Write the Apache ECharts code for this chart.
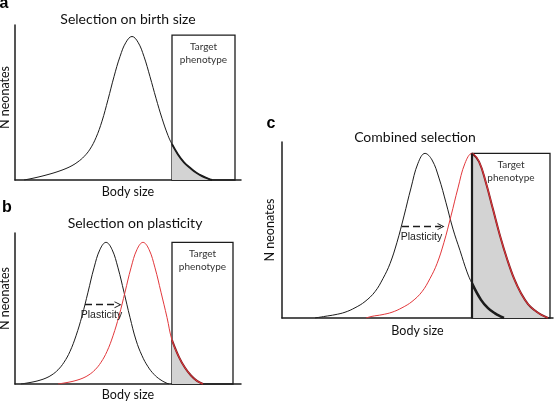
<!DOCTYPE html>
<html><head><meta charset="utf-8">
<script src="https://cdn.jsdelivr.net/npm/echarts@6/dist/echarts.min.js"></script>
<style>html,body{margin:0;padding:0;background:#fff}#c{width:555px;height:402px}</style>
</head><body><div id="c"></div>
<script>
// ---- data (body size units / N neonates units) ----
// Panel a: selection on birth size
const aX = [9, 15, 21, 27, 33, 39, 45, 51, 57, 63, 69, 75, 81, 87, 93, 99, 105, 111, 117, 123, 129, 135, 141, 147, 153, 157, 163, 169, 175, 181, 187, 193, 197];
const aY = [0, 0.8, 1.7, 2.7, 3.8, 5, 6.4, 8, 10, 12.7, 16.3, 21.5, 29.5, 41, 56, 72, 86, 96, 100, 96, 86, 72, 57, 43, 31, 25, 17.8, 12.3, 8.5, 5.2, 2.8, 1, 0];
const boxA = [157, 220, 101];
// Panel b: selection on plasticity
const bBlackX = [6, 13, 19, 25, 31, 37, 43, 49, 55, 61, 67, 73, 79, 85, 91, 97, 103, 109, 115, 121, 127, 133, 139, 145, 151, 154];
const bBlackY = [0, 0.8, 1.6, 2.7, 4.2, 6.5, 10, 15.3, 23, 34, 48, 64.8, 82, 95, 100, 95, 82, 64.8, 47, 31, 20, 12.2, 6.8, 3.2, 0.8, 0];
const bRedX = [43, 50, 56, 62, 68, 74, 80, 86, 92, 98, 104, 110, 116, 122, 128, 134, 140, 146, 152, 157, 164, 170, 176, 182, 188];
const bRedY = [0, 0.8, 1.6, 2.7, 4.2, 6.5, 10, 15.3, 23, 34, 48, 64.8, 82, 95, 100, 95, 82, 64.8, 47, 31, 19, 11.5, 6, 2.2, 0];
const boxB = [157, 218, 100];
const arrowB = [70, 103, 56];
// Panel c: combined selection
const cBlackX = [33, 43, 53, 63, 73, 83, 93, 101, 108, 115, 122, 129, 136, 143, 150, 157, 164, 171, 178, 185, 190, 199, 206, 213, 219, 222];
const cBlackY = [0, 1, 2, 3.5, 6.2, 10, 16, 24, 33, 46, 62, 79, 94, 100, 96, 85, 70, 54, 41, 28, 21, 11, 6, 2.8, 0.8, 0];
const cRedX = [84, 90, 100, 110, 120, 130, 140, 148, 155, 162, 169, 176, 183, 190, 197, 204, 211, 218, 225, 232, 239, 246, 253, 259, 266];
const cRedY = [0, 1, 2, 3.5, 6.2, 10, 16, 24, 33, 46, 62, 79, 94, 100, 95, 82, 66, 50, 36, 24, 15, 8.5, 4.5, 2, 0];
const boxC = [190, 268, 100];
const arrowC = [120, 159, 55.5];
const titles = ['Selection on birth size', 'Selection on plasticity', 'Combined selection'];
const letters = ['a', 'b', 'c'];
const xName = 'Body size', yName = 'N neonates', boxLabel = 'Target\nphenotype', arrowLabel = 'Plasticity';

// ---- helpers ----
const pairs = (xs, ys) => xs.map((x, i) => [x, ys[i]]);
const from = (xs, ys, x0) => pairs(xs, ys).filter(p => p[0] >= x0);
const FONT = 'Lato';
const INK = '#1c1c1c', RED = '#e2383c', DARKRED = '#7a1e22', FILL = '#d3d3d3';
const ARROW = 'path://M5,0 L10,10 L8.6,10 L5,2.8 L1.4,10 L0,10 Z';

const grids = [
  {left: 15, top: 25, width: 226, height: 155},
  {left: 15, top: 233, width: 226, height: 151},
  {left: 282, top: 142, width: 271, height: 176}
].map(g => Object.assign({outerBoundsMode: 'none', containLabel: false}, g));
const xMax = [226, 226, 271];
const yMax = [108, 106.6, 106.9];
const xGap = [5, 4, 6];
const yGap = [4, 4, 6];
const yPad = [[0, 0, 0, 10], [0, 0, 0, 20], [0, 0, 0, 0]];

const xAxes = xMax.map((m, i) => ({
  type: 'value', gridIndex: i, min: 0, max: m,
  axisLine: {show: true, lineStyle: {color: INK, width: 1.5}},
  axisTick: {show: false}, axisLabel: {show: false}, splitLine: {show: false},
  name: xName, nameLocation: 'middle', nameGap: xGap[i],
  nameTextStyle: {fontFamily: FONT, fontSize: 12.5, color: '#111', verticalAlign: 'top'}
}));
const yAxes = yMax.map((m, i) => ({
  type: 'value', gridIndex: i, min: 0, max: m,
  axisLine: {show: true, lineStyle: {color: INK, width: 1.5}},
  axisTick: {show: false}, axisLabel: {show: false}, splitLine: {show: false},
  name: yName, nameLocation: 'middle', nameGap: yGap[i],
  nameTextStyle: {fontFamily: FONT, fontSize: 12.5, color: '#111', padding: yPad[i]}
}));

const base = (i, z) => ({type: 'line', xAxisIndex: i, yAxisIndex: i, showSymbol: false, symbol: 'none',
  silent: true, animation: false, z: z, smooth: 0.4});
const curve = (i, data, color, width, z) => Object.assign(base(i, z), {data, lineStyle: {color, width}});
const shade = (i, data, edge) => Object.assign(base(i, 2), {data, lineStyle: {color: edge, width: 2},
  areaStyle: {color: FILL, opacity: 1}});
const box = (i, b, extra) => Object.assign(base(i, 3), {data: [], markArea: {silent: true,
  itemStyle: {color: 'rgba(0,0,0,0)', borderColor: INK, borderWidth: 1.3},
  label: {show: true, position: 'insideTop', distance: 6, fontFamily: FONT, fontSize: 10, lineHeight: 13, color: '#333'},
  data: [[{name: boxLabel, coord: [b[0], 0]}, {coord: [b[1], b[2]]}]]}}, extra || {});
const arrow = (a) => ({silent: true, symbol: ['none', ARROW], symbolSize: [7, 7],
  lineStyle: {color: INK, width: 1.3, type: [7, 4]},
  label: {show: true, position: 'insideMiddleBottom', distance: 5, formatter: arrowLabel,
    fontFamily: 'Liberation Sans', fontSize: 10.5, color: '#222'},
  data: [[{coord: [a[0], a[2]]}, {coord: [a[1], a[2]]}]]});

const series = [
  // a
  shade(0, from(aX, aY, boxA[0]), INK),
  box(0, boxA),
  curve(0, pairs(aX, aY), INK, 1, 4),
  // b
  shade(1, from(bRedX, bRedY, boxB[0]), DARKRED),
  box(1, boxB, {markLine: arrow(arrowB)}),
  curve(1, pairs(bBlackX, bBlackY), INK, 1, 4),
  curve(1, pairs(bRedX, bRedY), RED, 1, 4),
  // c
  shade(2, from(cRedX, cRedY, boxC[0]), DARKRED),
  box(2, boxC, {markLine: arrow(arrowC)}),
  curve(2, pairs(cBlackX, cBlackY), INK, 1, 4),
  curve(2, pairs(cRedX, cRedY), RED, 1, 4),
  curve(2, from(cBlackX, cBlackY, boxC[0]), INK, 2.6, 5),
  Object.assign(base(2, 5), {data: [], markLine: {silent: true, symbol: 'none',
    lineStyle: {color: INK, width: 2.2, type: 'solid'}, label: {show: false},
    data: [[{coord: [boxC[0], 0]}, {coord: [boxC[0], boxC[2]]}]]}})
];

const titlePos = [[128, 19], [135, 223], [415, 137]];
const letterPos = [[4, 4], [7, 208], [271, 124]];
const graphic = [];
titles.forEach((t, i) => graphic.push({type: 'text', x: titlePos[i][0], y: titlePos[i][1], silent: true,
  style: {text: t, font: '14px ' + FONT, fill: '#111', align: 'center', verticalAlign: 'middle'}}));
letters.forEach((t, i) => graphic.push({type: 'text', x: letterPos[i][0], y: letterPos[i][1], silent: true,
  style: {text: t, font: 'bold 16px "Liberation Sans"', fill: '#000', align: 'center', verticalAlign: 'middle'}}));

const chart = echarts.init(document.getElementById('c'), null, {renderer: 'canvas'});
chart.setOption({animation: false, backgroundColor: '#fff', grid: grids, xAxis: xAxes, yAxis: yAxes, series, graphic});
</script></body></html>
